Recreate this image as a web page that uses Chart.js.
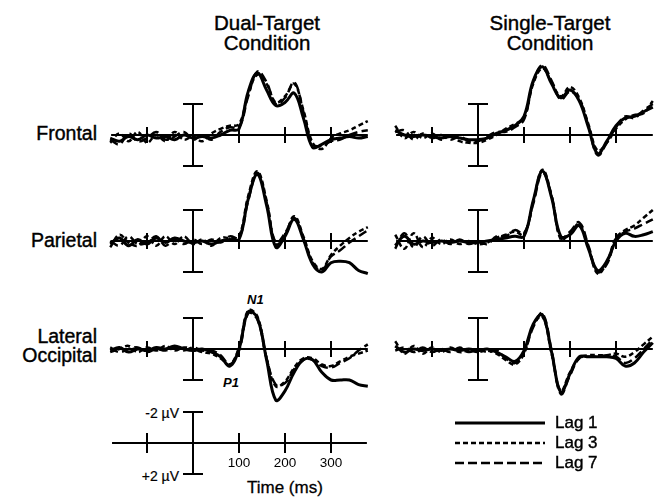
<!DOCTYPE html>
<html>
<head>
<meta charset="utf-8">
<script src="https://cdn.jsdelivr.net/npm/chart.js@4.4.0/dist/chart.umd.min.js"></script>
<style>
body { margin: 0; background: #fff; width: 658px; height: 499px; position: relative; overflow: hidden;
       font-family: "Liberation Sans", Arial, sans-serif; color: #000; }
canvas { position: absolute; }
.lbl { position: absolute; white-space: nowrap; }
.title { font-size: 20.5px; line-height: 20px; text-align: center; width: 200px; -webkit-text-stroke: 0.4px #000; }
.row { font-size: 19.5px; line-height: 19px; text-align: right; width: 97px; left: 0; -webkit-text-stroke: 0.4px #000; }
.peak { font-size: 13px; font-style: italic; font-weight: bold; }
.uv { font-size: 14px; line-height: 16px; text-align: right; width: 90px; left: 89px; -webkit-text-stroke: 0.2px #000; }
.leg { font-size: 17px; line-height: 20px; left: 555px; -webkit-text-stroke: 0.4px #000; }
</style>
</head>
<body>
<div class="lbl title" style="left:167px; top:13px;">Dual-Target<br>Condition</div>
<div class="lbl title" style="left:450px; top:13px;">Single-Target<br>Condition</div>
<div class="lbl row" style="top:124px;">Frontal</div>
<div class="lbl row" style="top:231px;">Parietal</div>
<div class="lbl row" style="top:327px;">Lateral<br>Occipital</div>
<div class="lbl peak" style="left:247px; top:292px;">N1</div>
<div class="lbl peak" style="left:223px; top:375px;">P1</div>
<div class="lbl uv" style="top:405px;">-2 µV</div>
<div class="lbl uv" style="top:468px;">+2 µV</div>
<div class="lbl" style="left:247px; top:478px; font-size:17px; -webkit-text-stroke: 0.3px #000;">Time (ms)</div>

<canvas id="fDual" width="276" height="186" style="left:101px; top:42px;"></canvas>
<canvas id="fSingle" width="276" height="186" style="left:386px; top:42px;"></canvas>
<canvas id="pDual" width="276" height="186" style="left:101px; top:148px;"></canvas>
<canvas id="pSingle" width="276" height="186" style="left:386px; top:148px;"></canvas>
<canvas id="lDual" width="276" height="186" style="left:101px; top:256px;"></canvas>
<canvas id="lSingle" width="276" height="186" style="left:386px; top:256px;"></canvas>
<canvas id="calib" width="276" height="186" style="left:101px; top:350px;"></canvas>

<svg style="position:absolute; left:450px; top:413px;" width="100" height="60">
  <line x1="5" y1="10" x2="95" y2="10" stroke="#000" stroke-width="3"/>
  <line x1="5" y1="30" x2="95" y2="30" stroke="#000" stroke-width="2.5" stroke-dasharray="5,3"/>
  <line x1="5" y1="50" x2="95" y2="50" stroke="#000" stroke-width="2.5" stroke-dasharray="9,4"/>
</svg>
<div class="lbl leg" style="top:413px;">Lag 1</div>
<div class="lbl leg" style="top:433px;">Lag 3</div>
<div class="lbl leg" style="top:453px;">Lag 7</div>

<script>
// time points (ms) and amplitudes (µV, negative plotted up)
const times = [-180, -160, -140, -120, -100, -80, -60, -40, -20, 0, 20, 40, 60, 80, 100,
               120, 140, 160, 180, 200, 220, 240, 260, 280, 300, 320, 340, 360, 380];
const tickTimes = [-100, 100, 200, 300];
const tickLabels = [100, 200, 300];
const lagNames = ['Lag 1', 'Lag 3', 'Lag 7'];

// Frontal
const frontalDualLag1 = [0.2, 0.4, 0.1, 0.3, 0.0, 0.2, 0.1, 0.3, 0.0, 0.2, 0.1, 0.2, 0.0, -0.3, -0.4, -2.8, -4.0, -2.9, -1.9, -2.1, -2.7, -1.1, 0.8, 0.6, 0.3, 0.2, 0.1, 0.2, 0.1];
const frontalDualLag3 = [0.5, -0.1, 0.4, -0.2, 0.5, 0.0, 0.4, -0.2, 0.3, 0.1, 0.4, -0.1, -0.4, -0.6, -0.7, -2.6, -3.9, -3.3, -2.1, -2.5, -3.3, -1.6, 0.5, 0.9, 0.2, -0.1, -0.3, -0.6, -0.9];
const frontalDualLag7 = [0.3, 0.6, -0.1, 0.4, 0.2, -0.2, 0.3, 0.1, -0.2, 0.3, 0.0, 0.3, -0.2, -0.5, -0.5, -2.5, -4.1, -3.4, -2.0, -2.4, -3.4, -1.5, 0.6, 0.7, 0.4, 0.3, 0.0, -0.2, -0.3];
const frontalSingleLag1 = [-0.3, 0.0, 0.1, 0.0, 0.1, 0.2, 0.1, 0.2, 0.3, 0.3, 0.2, -0.1, -0.3, -0.6, -1.2, -3.5, -4.4, -3.3, -2.4, -2.9, -2.2, -0.5, 1.2, 0.4, -0.6, -1.1, -1.2, -1.5, -1.8];
const frontalSingleLag3 = [-0.6, 0.2, -0.2, 0.2, -0.1, 0.3, 0.0, 0.4, 0.5, 0.5, 0.3, 0.0, -0.4, -0.7, -1.1, -3.3, -4.3, -3.4, -2.5, -3.1, -2.4, -0.7, 1.0, 0.5, -0.4, -1.0, -1.3, -1.4, -2.2];
const frontalSingleLag7 = [-0.2, -0.3, 0.3, -0.1, 0.2, 0.0, 0.3, 0.1, 0.4, 0.4, 0.1, -0.2, -0.2, -0.5, -1.0, -3.4, -4.5, -3.5, -2.3, -2.8, -2.3, -0.6, 1.3, 0.5, -0.5, -1.2, -1.1, -1.6, -2.0];

// Parietal
const parietalDualLag1 = [0.2, -0.2, 0.3, -0.1, 0.2, -0.2, 0.1, -0.2, 0.0, 0.1, 0.0, 0.2, 0.0, -0.1, -0.1, -2.7, -4.3, -2.3, 0.4, -0.3, -1.4, -0.1, 1.5, 2.0, 1.4, 1.3, 1.4, 1.9, 2.1];
const parietalDualLag3 = [0.4, -0.4, 0.1, 0.3, -0.3, 0.3, -0.3, 0.2, -0.3, 0.2, -0.1, 0.3, -0.2, -0.2, -0.3, -2.9, -4.5, -2.6, 0.2, -0.4, -1.6, -0.3, 1.3, 1.8, 0.9, 0.3, -0.2, -0.6, -0.9];
const parietalDualLag7 = [0.0, 0.3, -0.3, 0.2, 0.1, -0.3, 0.3, -0.1, 0.2, -0.1, 0.2, -0.1, 0.1, -0.3, -0.2, -2.6, -4.4, -2.5, 0.1, -0.5, -1.5, -0.2, 1.4, 1.9, 1.0, 0.6, 0.1, -0.3, -0.7];
const parietalSingleLag1 = [0.3, -0.3, 0.2, 0.0, 0.1, 0.0, 0.1, 0.0, 0.1, 0.1, 0.0, -0.1, -0.2, -0.3, -0.3, -2.6, -4.5, -2.8, -0.3, -0.4, -1.0, 0.5, 1.9, 1.3, 0.0, -0.5, -0.3, -0.4, -0.6];
const parietalSingleLag3 = [-0.4, 0.5, -0.5, 0.4, -0.2, 0.2, -0.1, 0.2, 0.0, 0.2, 0.1, -0.2, -0.4, -0.6, -0.4, -2.5, -4.6, -2.9, -0.1, -0.5, -1.1, 0.4, 2.1, 1.4, -0.2, -0.7, -1.0, -1.5, -2.0];
const parietalSingleLag7 = [0.5, -0.5, 0.4, -0.3, 0.3, -0.1, 0.2, -0.1, 0.2, 0.0, 0.2, -0.3, -0.3, -0.7, -0.5, -2.4, -4.4, -2.9, -0.2, -0.6, -1.2, 0.3, 2.0, 1.5, -0.1, -0.6, -0.8, -1.1, -1.4];

// Lateral occipital
const lateralDualLag1 = [0.1, -0.1, 0.2, 0.0, 0.1, -0.1, 0.0, -0.2, 0.0, 0.1, 0.0, 0.2, 0.5, 1.1, 0.0, -2.4, -2.0, 0.7, 3.3, 2.7, 1.5, 0.7, 0.7, 1.5, 2.0, 2.0, 2.0, 2.3, 2.4];
const lateralDualLag3 = [0.2, 0.0, -0.2, 0.2, -0.1, 0.1, -0.2, 0.1, -0.1, 0.0, 0.2, 0.3, 0.6, 1.0, -0.1, -2.5, -2.1, 0.6, 2.4, 2.1, 1.2, 0.6, 0.6, 1.0, 1.1, 0.8, 0.5, 0.3, 0.1];
const lateralDualLag7 = [-0.1, 0.2, 0.0, -0.1, 0.2, 0.0, 0.1, -0.1, 0.1, -0.1, 0.1, 0.1, 0.4, 1.0, 0.1, -2.3, -1.9, 0.6, 2.3, 2.2, 1.3, 0.7, 0.7, 1.1, 1.2, 0.9, 0.6, 0.1, -0.3];
const lateralSingleLag1 = [-0.2, 0.2, 0.0, 0.1, 0.0, 0.1, 0.0, 0.1, 0.0, 0.1, 0.0, 0.2, 0.5, 0.8, 0.1, -1.6, -2.2, 0.2, 2.8, 1.6, 0.5, 0.5, 0.5, 0.5, 0.6, 1.1, 0.9, 0.2, -0.4];
const lateralSingleLag3 = [-0.5, 0.3, -0.2, 0.3, -0.1, 0.2, -0.1, 0.2, 0.1, 0.2, 0.1, 0.3, 0.7, 1.0, 0.3, -1.5, -2.1, 0.3, 2.7, 1.5, 0.6, 0.4, 0.4, 0.4, 0.3, 0.5, 0.2, -0.3, -0.8];
const lateralSingleLag7 = [0.1, -0.1, 0.2, -0.1, 0.2, 0.0, 0.2, -0.1, 0.2, 0.0, 0.2, 0.1, 0.6, 0.9, 0.2, -1.4, -2.3, 0.1, 2.9, 1.7, 0.6, 0.5, 0.5, 0.4, 0.5, 0.9, 0.6, 0.0, -0.6];

// baseline, time ticks and the +/-2 µV bar at time 0
const erpAxes = {
    id: 'erpAxes',
    beforeDatasetsDraw(chart, args, opts) {
        const ctx = chart.ctx;
        const xs = chart.scales.x, ys = chart.scales.y;
        const y0 = ys.getPixelForValue(0);
        const zx = xs.getPixelForValue(0);
        const top = ys.getPixelForValue(-2), bot = ys.getPixelForValue(2);
        ctx.save();
        ctx.strokeStyle = '#000';
        ctx.lineWidth = 2;
        ctx.beginPath();
        ctx.moveTo(xs.getPixelForValue(opts.from), y0);
        ctx.lineTo(xs.getPixelForValue(opts.to), y0);
        tickTimes.forEach(t => {
            const px = xs.getPixelForValue(t);
            ctx.moveTo(px, y0 - opts.tick);
            ctx.lineTo(px, y0 + opts.tick);
        });
        ctx.moveTo(zx, top); ctx.lineTo(zx, bot);
        ctx.moveTo(zx - 10, top); ctx.lineTo(zx + 10, top);
        ctx.moveTo(zx - 10, bot); ctx.lineTo(zx + 10, bot);
        ctx.stroke();
        if (opts.labels) {
            ctx.fillStyle = '#000';
            ctx.font = '13.5px "Liberation Sans", Arial, sans-serif';
            ctx.textAlign = 'center';
            ctx.textBaseline = 'middle';
            tickLabels.forEach(t => ctx.fillText(String(t), xs.getPixelForValue(t), y0 + 20));
        }
        ctx.restore();
    }
};

function makeDatasets(lag1, lag3, lag7) {
    const styles = [
        { width: 3, dash: [] },
        { width: 2.5, dash: [5, 3] },
        { width: 2.5, dash: [9, 4] }
    ];
    return [lag1, lag3, lag7].map((vals, i) => ({
        label: lagNames[i],
        data: times.map((t, j) => ({ x: t, y: vals[j] })),
        borderColor: '#000',
        borderWidth: styles[i].width,
        borderDash: styles[i].dash,
        pointRadius: 0,
        tension: 0.4,
        fill: false
    }));
}

function drawPanel(id, datasets, axisOpts) {
    return new Chart(document.getElementById(id), {
        type: 'line',
        data: { datasets: datasets },
        options: {
            responsive: false,
            animation: false,
            events: [],
            layout: { padding: 0 },
            scales: {
                x: { type: 'linear', min: -200, max: 400, display: false },
                y: { min: -6, max: 6, reverse: true, display: false }
            },
            plugins: {
                legend: { display: false },
                tooltip: { enabled: false },
                erpAxes: axisOpts
            }
        },
        plugins: [erpAxes]
    });
}

const panelAxis = { from: -178, to: 380, tick: 8, labels: false };
drawPanel('fDual', makeDatasets(frontalDualLag1, frontalDualLag3, frontalDualLag7), panelAxis);
drawPanel('fSingle', makeDatasets(frontalSingleLag1, frontalSingleLag3, frontalSingleLag7), panelAxis);
drawPanel('pDual', makeDatasets(parietalDualLag1, parietalDualLag3, parietalDualLag7), panelAxis);
drawPanel('pSingle', makeDatasets(parietalSingleLag1, parietalSingleLag3, parietalSingleLag7), panelAxis);
drawPanel('lDual', makeDatasets(lateralDualLag1, lateralDualLag3, lateralDualLag7), panelAxis);
drawPanel('lSingle', makeDatasets(lateralSingleLag1, lateralSingleLag3, lateralSingleLag7), panelAxis);
drawPanel('calib', [], { from: -176, to: 378, tick: 10, labels: true });
</script>
</body>
</html>
